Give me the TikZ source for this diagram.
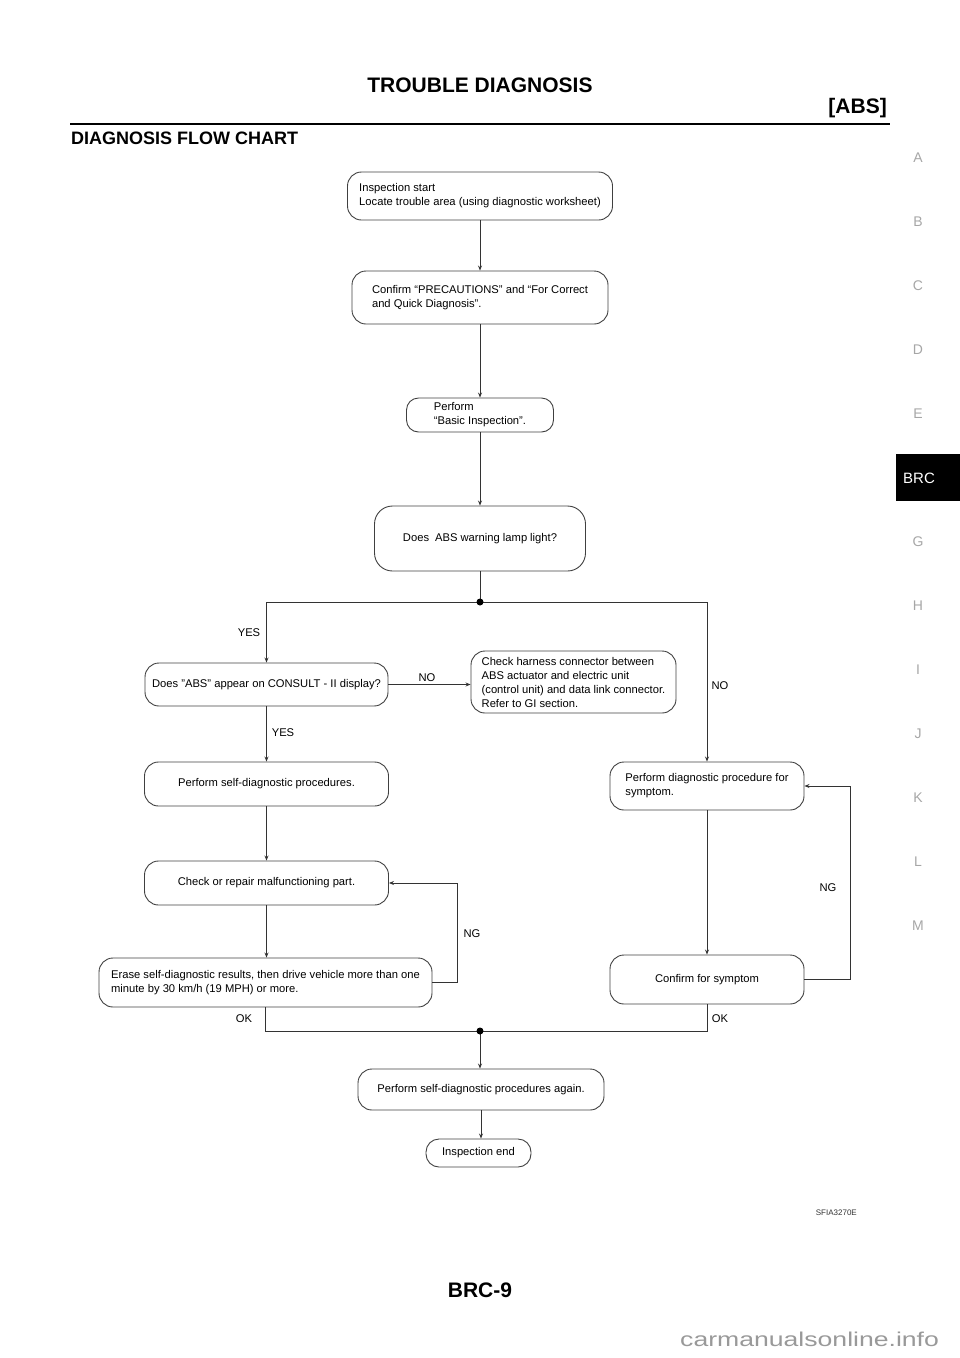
\documentclass[tikz,border=0pt]{standalone}
\usepackage{fontspec}
\setmainfont{Liberation Sans}
\usetikzlibrary{arrows.meta}
\begin{document}
\begin{tikzpicture}[x=1pt,y=-1pt,
  box/.style={draw=black!75, line width=0.9pt, rounded corners=14pt, inner sep=0pt, font=\fontsize{11.2}{14}\selectfont},
  sz/.style 2 args={minimum width=#1pt, minimum height=#2pt},
  lbl/.style={font=\fontsize{11.2}{14}\selectfont, inner sep=0pt},
  arr/.style={draw=black!80, line width=0.8pt, -{Stealth[length=5pt,width=4pt]}},
  ln/.style={draw=black!80, line width=0.8pt},
  dot/.style={circle, fill=black, inner sep=0pt, minimum size=7pt},
  tabl/.style={text=black!35, font=\fontsize{14}{14}\selectfont, inner sep=0pt}]

\useasboundingbox (0,0) rectangle (960,1358);

% header
\node[font=\fontsize{21}{21}\selectfont\bfseries, inner sep=0pt] (title) at (480,85) {TROUBLE DIAGNOSIS};
\node[font=\fontsize{21}{21}\selectfont\bfseries, inner sep=0pt, anchor=east] (abs) at (887,108) {[ABS]};
\draw[line width=2.7pt] (70,124) -- (890,124);
\node[font=\fontsize{18}{18}\selectfont\bfseries, inner sep=0pt, anchor=west] (sub) at (71,138) {DIAGNOSIS FLOW CHART};

% side tabs
\node[tabl] (tA) at (918,158) {A};
\node[tabl] (tB) at (918,222) {B};
\node[tabl] (tC) at (918,286) {C};
\node[tabl] (tD) at (918,350) {D};
\node[tabl] (tE) at (918,414) {E};
\fill[black] (896,454) rectangle (960,501);
\node[text=white, font=\fontsize{15}{15}\selectfont, inner sep=0pt, anchor=west] (tBRC) at (903,478) {BRC};
\node[tabl] (tG) at (918,542) {G};
\node[tabl] (tH) at (918,606) {H};
\node[tabl] (tI) at (918,670) {I};
\node[tabl] (tJ) at (918,734) {J};
\node[tabl] (tK) at (918,798) {K};
\node[tabl] (tL) at (918,862) {L};
\node[tabl] (tM) at (918,926) {M};

% boxes
\node[box, sz={265}{48}, align=left] (b1) at (480,196) {Inspection start\\Locate trouble area (using diagnostic worksheet)};
\node[box, sz={256}{53}, align=left] (b2) at (480,297.5) {Confirm “PRECAUTIONS” and “For Correct\\and Quick Diagnosis”.};
\node[box, sz={147}{34}, align=left, rounded corners=12pt] (b3) at (480,415) {Perform\\“Basic Inspection”.};
\node[box, sz={211}{65}, align=center, rounded corners=18pt] (b4) at (480,538.5) {Does\hspace{6pt}ABS warning lamp\hspace{3pt}light?};
\node[box, sz={243}{43}, align=center] (b5) at (266.5,684.5) {Does "ABS" appear on CONSULT - II display?};
\node[box, sz={205}{62}, align=left] (b6) at (573.5,682) {Check harness connector between\\ABS actuator and electric unit\\(control unit) and data link connector.\\Refer to GI section.};
\node[box, sz={194}{48}, align=left] (b7) at (707,786) {Perform diagnostic procedure for\\symptom.};
\node[box, sz={244}{44}, align=center] (b8) at (266.5,784) {Perform self-diagnostic procedures.};
\node[box, sz={244}{44}, align=center] (b9) at (266.5,883) {Check or repair malfunctioning part.};
\node[box, sz={333}{49}, align=left] (b10) at (265.5,982.5) {Erase self-diagnostic results, then drive vehicle more than one\\minute by 30 km/h (19 MPH) or more.};
\node[box, sz={194}{49}, align=center] (b11) at (707,979.5) {Confirm for symptom};
\node[box, sz={246}{41}, align=center] (b12) at (481,1089.5) {Perform self-diagnostic procedures again.};
\node[box, sz={105}{28}, align=center, rounded corners=13pt] (b13) at (478.5,1153) {Inspection end};

% junctions
\coordinate (j1) at (480,602);
\coordinate (j2) at (480,1031);

% connectors
\draw[arr] (b1.south) -- (b1.south |- b2.north);
\draw[arr] (b2.south) -- (b2.south |- b3.north);
\draw[arr] (b3.south) -- (b3.south |- b4.north);
\draw[ln] (b4.south) -- (j1);
\draw[arr] (j1) -| (b5.north);
\draw[arr] (j1) -| (b7.north);
\draw[arr] (b5.east) -- (b5.east -| b6.west);
\draw[arr] (b5.south) -- (b5.south |- b8.north);
\draw[arr] (b8.south) -- (b8.south |- b9.north);
\draw[arr] (b9.south) -- (b9.south |- b10.north);
\draw[arr] (b10.east) -- ++(25,0) |- (b9.east);
\draw[arr] (b7.south) -- (b7.south |- b11.north);
\draw[arr] (b11.east) -- ++(46,0) |- (b7.east);
\draw[ln] (b10.south) |- (j2) -| (b11.south);
\draw[arr] (j2) -- (j2 |- b12.north);
\draw[arr] (b12.south) -- (b12.south |- b13.north);
\node[dot] (j1dot) at (j1) {};
\node[dot] (j2dot) at (j2) {};

% labels
\node[lbl] (yes1) at (249,633) {YES};
\node[lbl] (no1) at (427,678) {NO};
\node[lbl] (no2) at (720,686) {NO};
\node[lbl] (yes2) at (283,733) {YES};
\node[lbl] (ng1) at (472,934) {NG};
\node[lbl] (ng2) at (828,888) {NG};
\node[lbl] (ok1) at (244,1019) {OK};
\node[lbl] (ok2) at (720,1019) {OK};

% footer
\node[font=\fontsize{8}{8}\selectfont, text=black!80, inner sep=0pt, anchor=east] (code) at (857,1213) {SFIA3270E};
\node[font=\fontsize{21}{21}\selectfont\bfseries, inner sep=0pt] (page) at (480,1290) {BRC-9};
\node[font=\fontsize{20}{20}\selectfont, text=black!40, inner sep=0pt, anchor=west] (wm) at (680,1339) {\scalebox{1.33}[1]{carmanualsonline.info}};
\end{tikzpicture}
\end{document}
